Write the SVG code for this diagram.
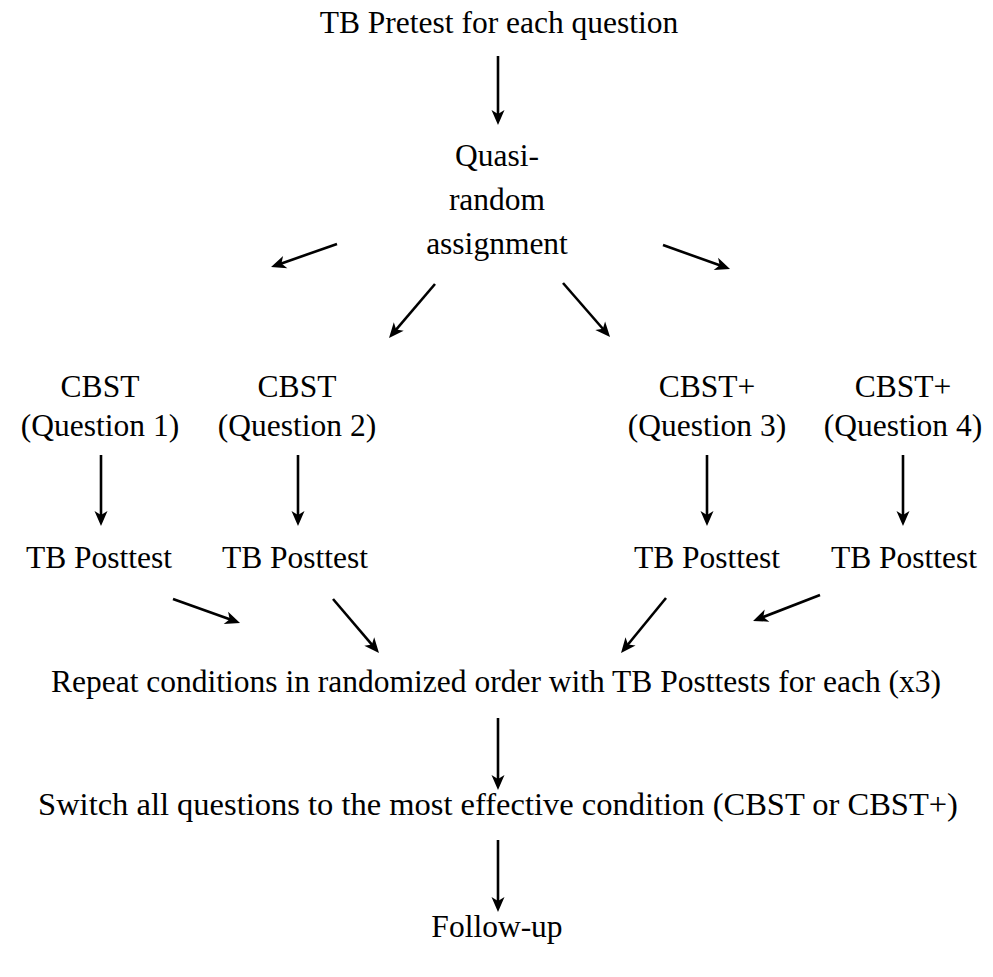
<svg xmlns="http://www.w3.org/2000/svg" width="993" height="977" viewBox="0 0 993 977">
<style>
.t text{font-size:31.5px;fill:#000;text-anchor:middle}
.t text.w{font-size:32.5px}
.c line{stroke:#000;stroke-width:2.6;fill:none;marker-end:url(#ah)}
</style>
<defs>
<marker id="ah" markerUnits="userSpaceOnUse" viewBox="-8 -8 18 16" refX="0" refY="0" markerWidth="18" markerHeight="16" orient="auto" overflow="visible">
<path d="M8,0 L-7,-6.5 L-3,0 L-7,6.5 Z" fill="#000"/>
</marker>
</defs>
<rect width="993" height="977" fill="#fff"/>
<g class="t" font-family="Liberation Serif, DejaVu Serif, serif">
<g id="pretest"><text x="499" y="33">TB Pretest for each question</text></g>
<g id="assign"><text x="497" y="166">Quasi-</text><text x="497" y="210">random</text><text x="497" y="254">assignment</text></g>
<g id="cbst1"><text x="100" y="397">CBST</text><text x="100" y="436">(Question 1)</text></g>
<g id="cbst2"><text x="297" y="397">CBST</text><text x="297" y="436">(Question 2)</text></g>
<g id="cbst3"><text x="707" y="397">CBST+</text><text x="707" y="436">(Question 3)</text></g>
<g id="cbst4"><text x="903" y="397">CBST+</text><text x="903" y="436">(Question 4)</text></g>
<g id="post1"><text x="99" y="568">TB Posttest</text></g>
<g id="post2"><text x="295" y="568">TB Posttest</text></g>
<g id="post3"><text x="707" y="568">TB Posttest</text></g>
<g id="post4"><text x="904" y="568">TB Posttest</text></g>
<g id="repeat"><text x="496" y="692">Repeat conditions in randomized order with TB Posttests for each (x3)</text></g>
<g id="switch"><text class="w" x="498" y="815">Switch all questions to the most effective condition (CBST or CBST+)</text></g>
<g id="followup"><text x="497" y="937">Follow-up</text></g>
</g>
<g class="c" id="connectors">
<line x1="498" y1="56" x2="498" y2="117"/>
<line x1="337" y1="244" x2="278.6" y2="264.4"/>
<line x1="435" y1="284" x2="394.2" y2="331.9"/>
<line x1="563" y1="283" x2="604.8" y2="331"/>
<line x1="663" y1="245" x2="722.5" y2="266.3"/>
<line x1="101" y1="455" x2="101" y2="518"/>
<line x1="298" y1="455" x2="298" y2="518"/>
<line x1="707" y1="455" x2="707" y2="518"/>
<line x1="903" y1="455" x2="903" y2="518"/>
<line x1="173" y1="599" x2="232.5" y2="620.3"/>
<line x1="333" y1="599" x2="373.8" y2="646.9"/>
<line x1="666" y1="598" x2="626.1" y2="646.8"/>
<line x1="820" y1="595" x2="760.5" y2="618.1"/>
<line x1="498" y1="718" x2="498" y2="782"/>
<line x1="498" y1="840" x2="498" y2="904"/>
</g>
</svg>
